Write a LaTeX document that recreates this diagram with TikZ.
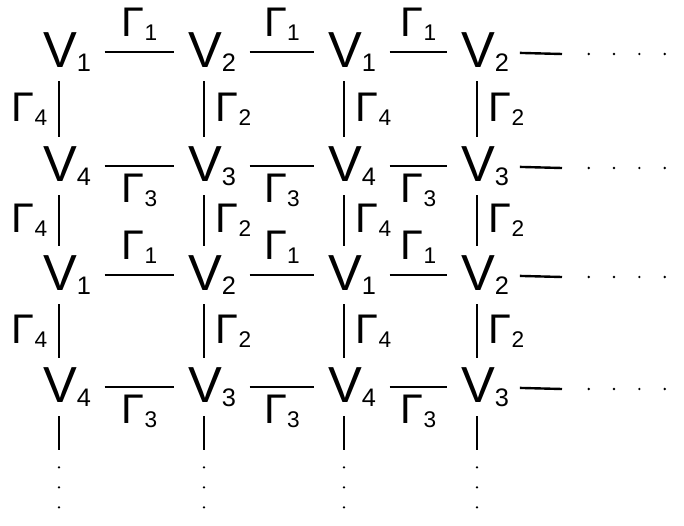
\documentclass[tikz,border=0pt]{standalone}
\usepackage{fontspec}
\setmainfont{Liberation Sans}
\usetikzlibrary{positioning}
\newcommand\Vsub[1]{V\raisebox{-3pt}{\fontsize{19}{21}\selectfont #1}}
\newcommand\Gsub[1]{Γ\raisebox{-3pt}{\fontsize{17}{19}\selectfont #1}}
\tikzset{
  vtx/.style={font=\fontsize{38}{42}\selectfont, inner sep=3pt},
  gam/.style={font=\fontsize{31}{34}\selectfont, inner sep=8pt},
  bond/.style={line width=1.8pt, shorten <=7pt, shorten >=7pt},
  rung/.style={line width=1.8pt, shorten <=4pt, shorten >=4pt},
  more/.style={line width=2pt, line cap=round, dash pattern=on 0pt off 19pt},
}
\begin{document}
\begin{tikzpicture}[x=0.75pt,y=-0.75pt]
        \useasboundingbox (0,0) rectangle (684,525);
        % vertices V_i
        \foreach \r/\y/\sa/\sb in {1/52/1/2,2/166/4/3,3/275/1/2,4/387/4/3}
          \foreach \c/\x/\o in {1/60/1,2/205/0,3/345/1,4/478/0} {
            \ifnum\o=1 \edef\s{\sa}\else\edef\s{\sb}\fi
            \node[vtx] (v\r\c) at (\x+7,\y) {\Vsub{\s}};
          }
        % horizontal bonds
        \foreach \r in {1,3}
          \foreach \c/\d in {1/2,2/3,3/4}
            \draw[bond] (v\r\c) -- (v\r\d) node[gam,midway,above] {\Gsub{1}};
        \foreach \r in {2,4}
          \foreach \c/\d in {1/2,2/3,3/4}
            \draw[bond] (v\r\c) -- (v\r\d) node[gam,midway,below,inner sep=5pt] {\Gsub{3}};
        % vertical bonds
        \foreach \r/\n in {1/2,2/3,3/4}
          \foreach \c/\g/\side in {1/4/left,2/2/right,3/4/right,4/2/right}
            \draw[rung] ([xshift=-6pt]v\r\c.south) -- ([xshift=-6pt]v\n\c.north)
              node[gam,midway,\side] {\Gsub{\g}};
        % continued to the right
        \foreach \r/\y in {1/54,2/168,3/277,4/389} {
          \coordinate (t\r) at (562,\y);
          \coordinate (u\r) at (682,\y);
          \draw[bond,shorten <=5pt,shorten >=0pt] (v\r4) -- (t\r);
          \draw[more,shorten <=20pt] (t\r) -- (u\r);
        }
        % continued downwards
        \foreach \c/\x in {1/60,2/205,3/345,4/478} {
          \coordinate (b\c) at (\x-1,450);
          \coordinate (e\c) at (\x-1,522);
          \draw[rung,shorten >=0pt] ([xshift=-6pt]v4\c.south) -- (b\c);
          \draw[more,shorten <=13pt,dash pattern=on 0pt off 15pt] (b\c) -- (e\c);
        }
\end{tikzpicture}
\end{document}
